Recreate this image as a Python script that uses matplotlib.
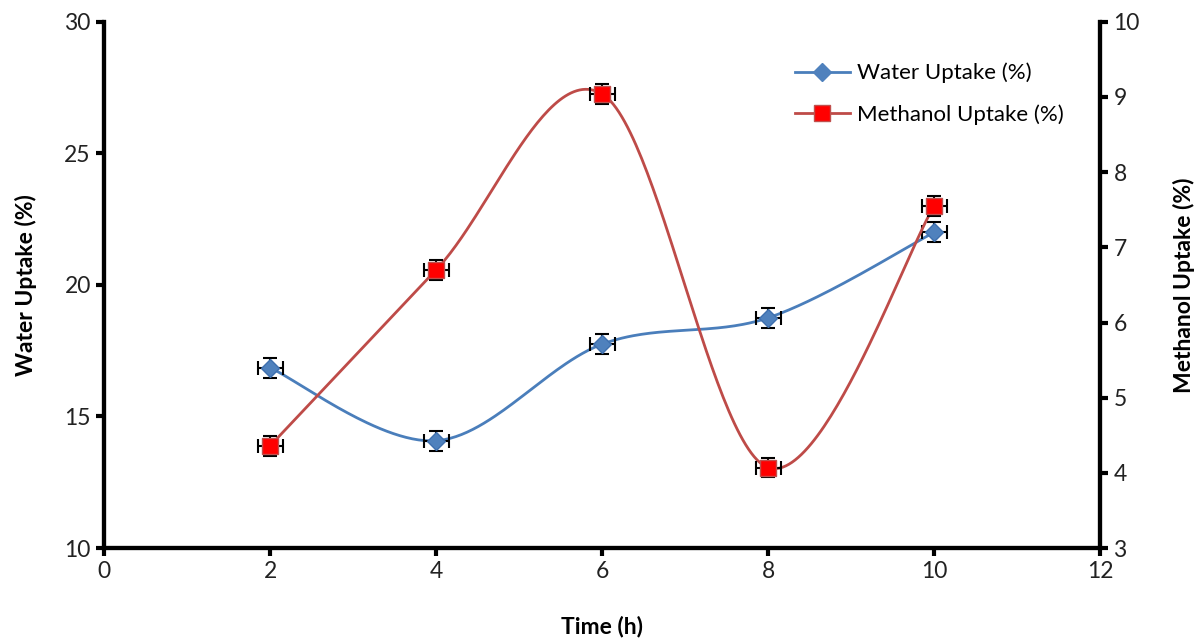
import numpy as np
import matplotlib.pyplot as plt

time_h = [2, 4, 6, 8, 10]
water = [16.85, 14.08, 17.75, 18.75, 22.0]
methanol = [4.36, 6.70, 9.04, 4.07, 7.55]
water_err = [0.38, 0.38, 0.38, 0.38, 0.38]
meth_err = [0.13, 0.13, 0.13, 0.13, 0.13]
x_err = [0.15, 0.15, 0.15, 0.15, 0.15]


def smooth(x, y, n=60):
    # Excel-style smoothed line: Bezier segments with Catmull-Rom control points
    x = np.asarray(x, float)
    y = np.asarray(y, float)
    px = np.concatenate([[x[0]], x, [x[-1]]])
    py = np.concatenate([[y[0]], y, [y[-1]]])
    xs, ys = [], []
    t = np.linspace(0, 1, n)
    for i in range(len(x) - 1):
        p0 = np.array([px[i + 1], py[i + 1]])
        p3 = np.array([px[i + 2], py[i + 2]])
        c1 = p0 + (p3 - np.array([px[i], py[i]])) / 6
        c2 = p3 - (np.array([px[i + 3], py[i + 3]]) - p0) / 6
        b = ((1 - t) ** 3)[:, None] * p0 + (3 * (1 - t) ** 2 * t)[:, None] * c1 \
            + (3 * (1 - t) * t ** 2)[:, None] * c2 + (t ** 3)[:, None] * p3
        xs.extend(b[:, 0])
        ys.extend(b[:, 1])
    return xs, ys


plt.rcParams['font.family'] = ['Lato', 'DejaVu Sans']
fig = plt.figure(figsize=(11.96, 6.41), dpi=100)
ax = fig.add_axes([0.087, 0.145, 0.833, 0.821])
ax2 = ax.twinx()

blue = '#4A7EBB'
red = '#BE4B48'

sx, sy = smooth(time_h, water)
ax.plot(sx, sy, color=blue, lw=2, zorder=2)
ax.errorbar(time_h, water, yerr=water_err, xerr=x_err, fmt='none', ecolor='black',
            elinewidth=1.5, capsize=5, capthick=1.5, zorder=3)
ax.plot(time_h, water, 'D', color='#4F81BD', markeredgecolor='#3E6FAE', ms=9, zorder=4)

mx, my = smooth(time_h, methanol)
ax2.plot(mx, my, color=red, lw=2, zorder=2)
ax2.errorbar(time_h, methanol, yerr=meth_err, xerr=x_err, fmt='none', ecolor='black',
             elinewidth=1.5, capsize=5, capthick=1.5, zorder=3)
ax2.plot(time_h, methanol, 's', color='#FF0000', markeredgecolor='#C0504D', ms=11, zorder=4)

# legend proxies
ax2.plot([], [], color=blue, lw=2, marker='D', mfc='#4F81BD', mec='#4F81BD', ms=9,
         label='Water Uptake (%)')
ax2.plot([], [], color=red, lw=2, marker='s', mfc='#FF0000', mec='#C0504D', ms=11,
         label='Methanol Uptake (%)')
ax2.legend(loc='upper left', bbox_to_anchor=(0.673, 0.96), frameon=False, fontsize=16,
           handlelength=2.5, labelspacing=0.95, handletextpad=0.3)

ax.set_xlim(0, 12)
ax.set_ylim(10, 30)
ax2.set_ylim(3, 10)
ax.set_xticks(range(0, 13, 2))
ax.set_yticks(range(10, 31, 5))
ax2.set_yticks(range(3, 11))

for a in (ax, ax2):
    for s in a.spines.values():
        s.set_linewidth(3)
    a.spines['top'].set_visible(False)
    a.tick_params(labelsize=16.5, width=3, length=6, colors='black', labelcolor='#222222')

ax.set_xlabel('Time (h)', fontsize=16.5, fontweight='bold', labelpad=24)
ax.set_ylabel('Water Uptake (%)', fontsize=16.5, fontweight='bold', labelpad=20)
ax2.set_ylabel('Methanol Uptake (%)', fontsize=16.5, fontweight='bold', labelpad=24)

fig.savefig('out.png', dpi=100)
